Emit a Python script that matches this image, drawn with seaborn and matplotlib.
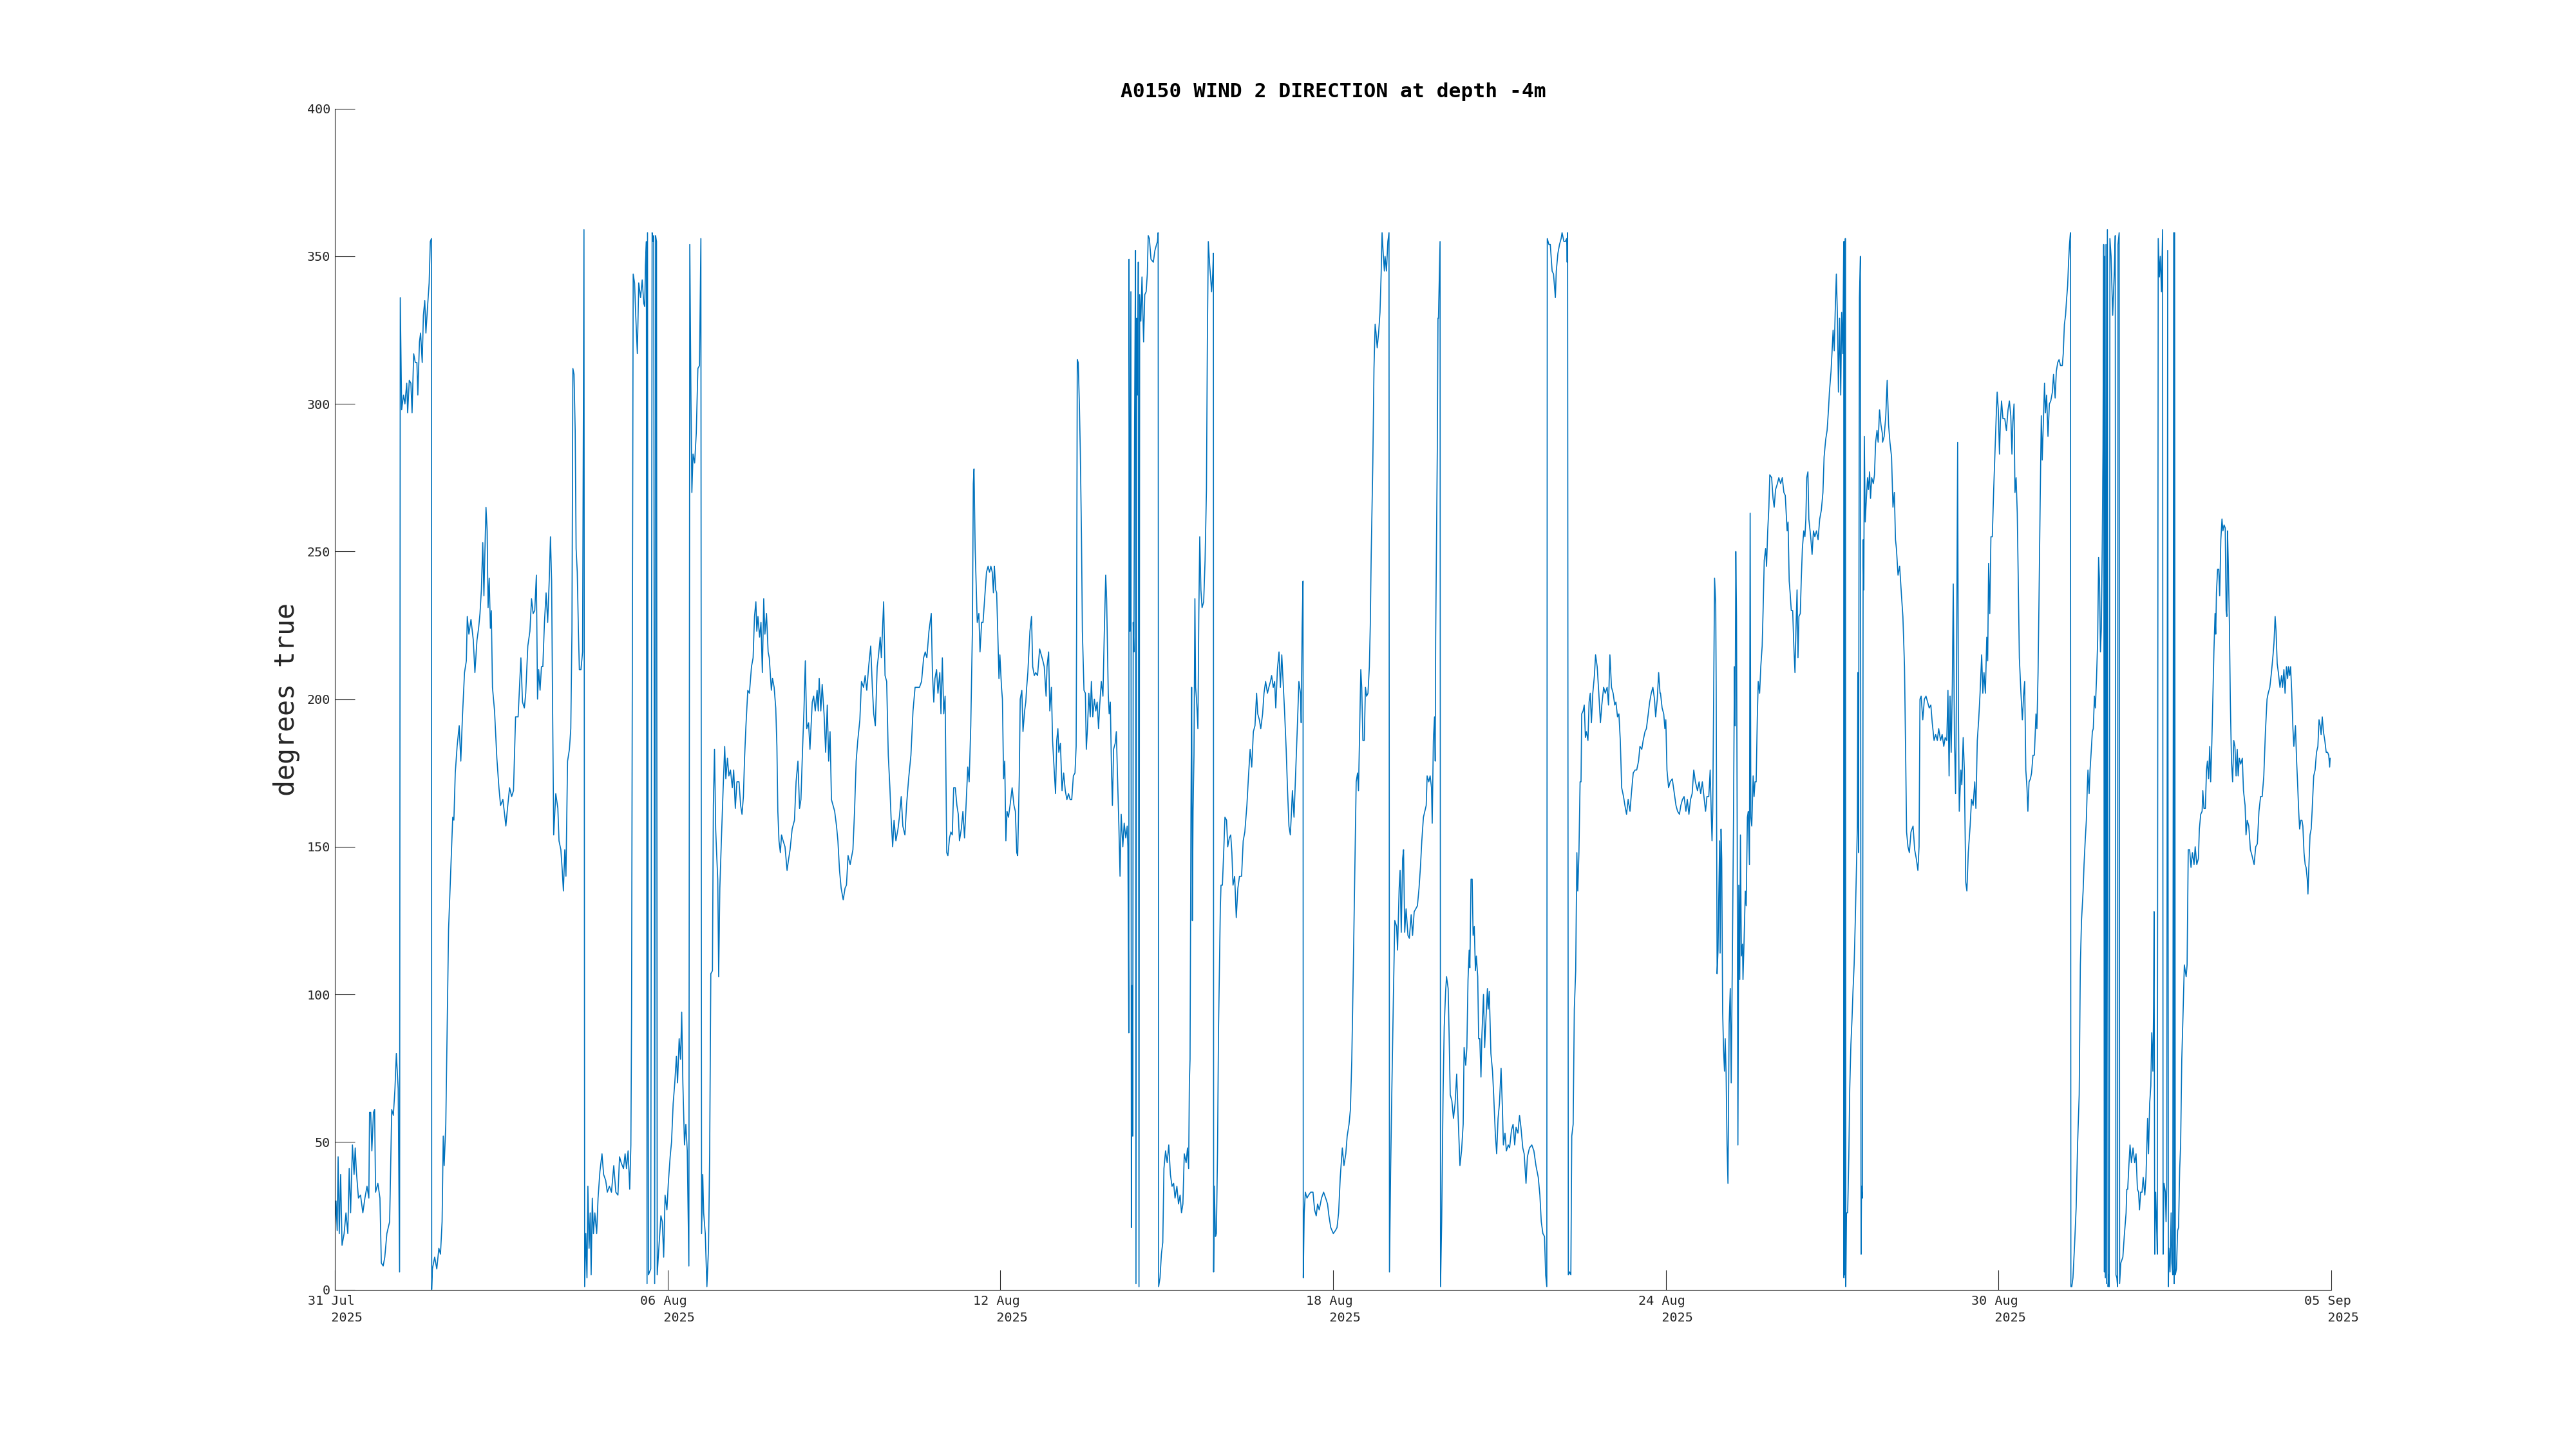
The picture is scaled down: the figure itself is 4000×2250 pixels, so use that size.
import matplotlib
matplotlib.use("Agg")
import matplotlib.pyplot as plt
import pandas as pd
import seaborn as sns

# ── data: (hours since 31 Jul 2025 00:00, degrees true) ──
seg_a = [(0, 21), (0.5, 30), (1.0, 20), (1.4, 45), (1.9, 19), (2.5, 39), (3.1, 15), (4.0, 19),
         (4.8, 26), (5.6, 19), (6.2, 41), (6.8, 26), (7.6, 49), (8.3, 39), (8.8, 48), (9.3, 40),
         (10.2, 31), (11.1, 32), (12.1, 26), (13.0, 31), (13.9, 35), (14.7, 31), (15.0, 60),
         (15.5, 60), (16.0, 47), (16.7, 60), (17.2, 61), (17.6, 33), (18.6, 36), (19.5, 31),
         (20.1, 9), (20.9, 8), (21.6, 11), (22.5, 19), (23.7, 23), (24.6, 61), (25.3, 59),
         (26.0, 68), (26.6, 80), (27.4, 68), (28.0, 6), (28.3, 336), (28.6, 317), (28.9, 298),
         (29.7, 303), (30.3, 300), (31.1, 307), (31.5, 297), (32.2, 308), (32.9, 307), (33.4, 297),
         (34.1, 317), (34.8, 314), (35.5, 314), (35.9, 303), (36.6, 321), (37.1, 324), (37.8, 314),
         (38.3, 330), (38.9, 335), (39.4, 324), (40.2, 334), (40.8, 341), (41.3, 355), (41.8, 356),
         (41.9, 0), (42.2, 7), (43.2, 11), (44.1, 7), (45.0, 14), (45.7, 12), (46.4, 23), (46.9, 52),
         (47.3, 42), (48.0, 56), (48.4, 78), (49.2, 122), (49.9, 137), (51.0, 160), (51.5, 159),
         (52.1, 175), (52.9, 184), (53.8, 191), (54.5, 179), (55.2, 194), (56.1, 209), (56.9, 213),
         (57.3, 228), (58.0, 222), (58.9, 227), (59.9, 220), (60.6, 209), (61.5, 220), (62.2, 224),
         (62.8, 229), (63.4, 237), (64.0, 253), (64.5, 235), (64.9, 249), (65.4, 265), (65.9, 257),
         (66.3, 231), (66.8, 241), (67.3, 224), (67.7, 230), (68.2, 204), (69.1, 196), (70.1, 180),
         (71.0, 170), (71.7, 164), (72.7, 166), (73.3, 162), (74.0, 157), (74.7, 163), (75.6, 170),
         (76.5, 167), (77.3, 169), (78.2, 194), (79.3, 194), (80.5, 214), (81.2, 199), (82.0, 197),
         (82.6, 202), (83.5, 218), (84.4, 223), (85.1, 234), (85.8, 229), (86.5, 230), (87.2, 242),
         (87.7, 200), (88.2, 210), (88.8, 203), (89.4, 211), (90.0, 211), (90.7, 226), (91.4, 236),
         (92.1, 226), (92.8, 241)]

seg_b = [(93.3, 255), (93.8, 240), (94.2, 200), (94.7, 154), (95.6, 168), (96.5, 163), (97.0, 152),
         (97.8, 149), (98.4, 142), (98.9, 135), (99.5, 149), (100.0, 140), (100.7, 179), (101.5, 183),
         (102.1, 190), (102.6, 223), (103.0, 312), (103.5, 310), (104.0, 291), (104.4, 251),
         (104.9, 243), (105.4, 223), (105.8, 210), (106.5, 210), (107.2, 216), (107.5, 287),
         (107.8, 359), (108.1, 1), (108.6, 19), (109.1, 4), (109.5, 35), (110.0, 14), (110.5, 26),
         (110.9, 5), (111.4, 31), (111.9, 19), (112.5, 26), (113.3, 19), (113.9, 31), (114.7, 40),
         (115.6, 46), (116.3, 39), (117.2, 37), (117.9, 33), (118.8, 35), (119.7, 33), (120.7, 42),
         (121.6, 33), (122.5, 32), (123.2, 45), (123.9, 43), (124.9, 41), (125.6, 46), (126.2, 41),
         (126.9, 47), (127.6, 34), (128.1, 49), (128.4, 92), (129.1, 344), (129.7, 341), (130.2, 330),
         (130.9, 317), (131.5, 341), (132.3, 336), (133.0, 342), (133.7, 334), (134.1, 333),
         (134.4, 347), (134.8, 355), (135.1, 2), (135.3, 358), (135.7, 5), (136.2, 6), (136.7, 7),
         (137.3, 358), (137.7, 355), (138.0, 357), (138.4, 2), (138.8, 357), (139.2, 355), (139.5, 5),
         (140.2, 14), (141.1, 25), (141.7, 23), (142.3, 11), (142.9, 32), (143.7, 27), (144.3, 36),
         (145.1, 45), (145.7, 50), (146.4, 63), (147.1, 70), (147.8, 79), (148.3, 70), (149.0, 85),
         (149.6, 78), (150.1, 94), (150.6, 70), (151.3, 49), (151.9, 56), (152.5, 47), (153.2, 8),
         (153.6, 354), (154.1, 302), (154.5, 270), (155.0, 283), (155.7, 280), (156.4, 290),
         (157.1, 312), (157.8, 313), (158.4, 356), (158.7, 19), (159.2, 39), (159.6, 26), (160.3, 19),
         (161.0, 1), (161.7, 14), (162.2, 46), (162.7, 107), (163.4, 108), (163.8, 164), (164.3, 183),
         (164.8, 156), (165.2, 148), (165.7, 139), (166.1, 106), (166.6, 136), (167.3, 153),
         (168.0, 169), (168.7, 184), (169.2, 173), (169.9, 180), (170.5, 174), (171.2, 176),
         (172.0, 170), (172.6, 176), (173.3, 163), (174.0, 172), (174.9, 172), (175.6, 164),
         (176.2, 161), (176.8, 167), (177.3, 180), (177.9, 191), (178.7, 203), (179.4, 202),
         (180.3, 211), (181.0, 214), (181.6, 228), (182.2, 233), (182.6, 223), (183.1, 228),
         (183.8, 221), (184.4, 226), (185.0, 209), (185.6, 234), (186.1, 222), (186.8, 229),
         (187.5, 216), (188.0, 214), (188.9, 203)]

seg_c = [(189.4, 207), (190.1, 204), (190.8, 197), (191.3, 184), (191.7, 162), (192.2, 152),
         (192.8, 148), (193.3, 154), (194.0, 152), (194.8, 150), (195.7, 142), (196.4, 146),
         (197.0, 149), (197.9, 156), (198.9, 159), (199.6, 172), (200.4, 179), (201.1, 163),
         (201.7, 166), (202.4, 183), (203.0, 196), (203.6, 213), (204.2, 190), (205.0, 192),
         (205.6, 183), (206.6, 199), (207.2, 201), (207.9, 196), (208.7, 203), (209.2, 196),
         (209.6, 207), (210.3, 196), (210.9, 205), (211.7, 195), (212.4, 182), (213.1, 198),
         (213.7, 179), (214.3, 189), (214.9, 166), (215.6, 164), (216.3, 162), (217.1, 157),
         (217.7, 152), (218.4, 142), (219.1, 136), (220.0, 132), (220.8, 136), (221.4, 137),
         (222.1, 147), (223.0, 144), (224.2, 149), (224.9, 162), (225.6, 179), (226.3, 186),
         (227.2, 193), (227.9, 206), (228.8, 204), (229.5, 208), (230.2, 203), (231.0, 211),
         (231.9, 218), (232.6, 204), (233.2, 195), (233.9, 191), (234.7, 211), (235.3, 215),
         (236.0, 221), (236.5, 214), (237.5, 233), (238.1, 208), (238.8, 206), (239.5, 181),
         (240.2, 170), (240.7, 160), (241.4, 150), (242.0, 159), (242.8, 152), (243.7, 156),
         (244.3, 160), (245.1, 167), (245.8, 157), (246.7, 154), (247.4, 164), (248.3, 173),
         (249.3, 181), (250.2, 196), (251.1, 204), (252.0, 204), (253.0, 204), (253.9, 206),
         (254.8, 214), (255.5, 216), (256.2, 214), (257.1, 223), (258.1, 229), (258.6, 209),
         (259.2, 199), (259.7, 207), (260.4, 210), (261.0, 202), (261.8, 209), (262.3, 195),
         (262.9, 214), (263.5, 195), (264.1, 201), (264.8, 148), (265.3, 147), (266.0, 153),
         (266.6, 155), (267.2, 154), (267.8, 170), (268.5, 170), (269.2, 164), (269.8, 161),
         (270.3, 152), (271.1, 156), (271.8, 162), (272.5, 153), (273.1, 163), (273.9, 177),
         (274.5, 172), (275.2, 191), (275.9, 223), (276.3, 273), (276.6, 278), (277.1, 251),
         (277.6, 237), (278.0, 226), (278.7, 229), (279.2, 216), (279.9, 226), (280.5, 226),
         (281.3, 235), (282.0, 243), (282.7, 245), (283.3, 243), (283.9, 245), (284.5, 243),
         (285.0, 236), (285.4, 245)]

seg_d = [(285.5, 244), (286.0, 237), (286.4, 236), (286.9, 222), (287.4, 207), (287.8, 215),
         (288.5, 204), (288.9, 200), (289.4, 173), (289.9, 179), (290.4, 152), (290.9, 162),
         (291.5, 160), (292.2, 164), (293.1, 170), (293.9, 164), (294.5, 162), (295.1, 148),
         (295.5, 147), (296.2, 174), (296.6, 200), (297.3, 203), (297.8, 189), (298.5, 196),
         (299.0, 199), (299.4, 204), (299.9, 209), (300.8, 223), (301.5, 228), (302.0, 211),
         (302.7, 208), (303.3, 209), (304.1, 208), (305.0, 217), (305.7, 215), (306.4, 213),
         (307.0, 211), (307.8, 201), (308.2, 211), (308.9, 216), (309.4, 196), (310.1, 204),
         (310.6, 186), (311.3, 176), (311.9, 168), (312.4, 186), (312.9, 190), (313.3, 182),
         (314.0, 185), (314.7, 169), (315.4, 175), (316.1, 169), (316.8, 166), (317.5, 168),
         (318.2, 166), (318.9, 166), (319.6, 174), (320.3, 175), (320.8, 184), (321.0, 223),
         (321.3, 315), (321.7, 314), (322.2, 300), (322.6, 284), (323.1, 256), (323.5, 223),
         (324.2, 203), (324.8, 202), (325.2, 183), (325.7, 190), (326.3, 202), (326.9, 194),
         (327.4, 206), (328.0, 194), (328.7, 200), (329.3, 196), (329.9, 199), (330.5, 190),
         (331.0, 198), (331.7, 206), (332.4, 201), (333.0, 223), (333.6, 242), (334.0, 234),
         (334.7, 202), (335.1, 195), (335.6, 199), (336.1, 176), (336.5, 164), (337.0, 183),
         (337.7, 185), (338.2, 189), (338.7, 174), (339.3, 157), (339.8, 140), (340.3, 161),
         (341.0, 150), (341.6, 158), (342.3, 153), (342.9, 157), (343.2, 150), (343.6, 87),
         (343.7, 349), (344.1, 223), (344.5, 338), (344.7, 21), (345.0, 103), (345.3, 52),
         (345.5, 226), (345.8, 216), (346.1, 294), (346.5, 352), (346.7, 2), (347.0, 329),
         (347.4, 303), (347.7, 348), (348.0, 1), (348.3, 337), (348.8, 328), (349.3, 343),
         (350.0, 321), (350.5, 337), (351.1, 338), (351.6, 344), (352.0, 357), (352.5, 356),
         (353.2, 349), (354.2, 348), (354.9, 352), (355.6, 354), (356.0, 355), (356.3, 358),
         (356.5, 1), (357.1, 4), (357.7, 12), (358.3, 16), (358.8, 41), (359.5, 47), (360.2, 43),
         (360.9, 49), (361.6, 39), (362.3, 35), (363.0, 36), (363.6, 31), (364.4, 35), (365.1, 29),
         (365.8, 32), (366.4, 26), (367.0, 29), (367.6, 46), (368.4, 43), (369.0, 48), (369.5, 41),
         (369.8, 70), (370.1, 78), (370.5, 162), (370.8, 204), (371.1, 125), (371.4, 162),
         (371.8, 181), (372.2, 234), (372.5, 204), (372.9, 200), (373.5, 190), (373.9, 229),
         (374.3, 255), (374.8, 237), (375.3, 231), (376.0, 233), (376.6, 247), (377.2, 271),
         (377.6, 322), (378.0, 355), (378.6, 347), (379.0, 343), (379.4, 338), (379.9, 344),
         (380.2, 351), (380.3, 6), (380.6, 35), (381.1, 18)]

seg_e = [(381.5, 19), (382.0, 47), (382.4, 87), (383.2, 129), (383.5, 137), (384.1, 137),
         (384.7, 149), (385.2, 160), (385.9, 159), (386.4, 150), (387.1, 153), (387.7, 154),
         (388.2, 148), (388.7, 137), (389.4, 140), (390.1, 126), (390.8, 136), (391.5, 140),
         (392.4, 140), (393.1, 152), (393.8, 155), (394.7, 164), (395.4, 174), (396.1, 183),
         (396.8, 177), (397.5, 189), (398.2, 191), (398.9, 202), (399.4, 195), (400.1, 193),
         (400.7, 190), (401.5, 195), (402.1, 202), (402.8, 206), (403.6, 202), (404.2, 204),
         (404.9, 206), (405.4, 208), (406.1, 204), (406.7, 206), (407.2, 197), (407.9, 210),
         (408.6, 216), (409.2, 204), (409.8, 215), (410.5, 204), (411.0, 196), (411.7, 183),
         (412.3, 169), (412.9, 157), (413.5, 154), (414.0, 162), (414.4, 169), (415.1, 160),
         (415.8, 175), (416.6, 192), (417.2, 206), (417.9, 202), (418.2, 192), (418.6, 224),
         (419.0, 240), (419.1, 4), (419.5, 26), (420.0, 33), (420.7, 31), (421.4, 32), (422.3, 33),
         (423.3, 33), (424.0, 27), (424.7, 25), (425.3, 29), (426.0, 27), (427.0, 31), (427.9, 33),
         (428.8, 31), (429.6, 29), (430.2, 25), (431.0, 21), (432.1, 19), (433.0, 20), (433.7, 21),
         (434.4, 26), (435.1, 38), (436.0, 48), (436.7, 42), (437.5, 46), (438.1, 52), (438.9, 56),
         (439.5, 61), (440.1, 78), (440.7, 106), (441.4, 141), (442.0, 172), (442.6, 175),
         (443.0, 169), (443.5, 189), (444.0, 210), (444.4, 204), (444.9, 186), (445.5, 186),
         (446.0, 204), (446.5, 201), (447.1, 202), (447.7, 211), (448.1, 225), (448.5, 249),
         (449.2, 280), (449.7, 312), (450.2, 327), (450.6, 324), (451.1, 319), (451.7, 324),
         (452.3, 331), (452.8, 344), (453.2, 358), (453.7, 351), (454.2, 345), (454.5, 350),
         (455.1, 345), (455.7, 355), (456.2, 358), (456.4, 6), (456.9, 40), (457.4, 66), (458.1, 99),
         (458.7, 125), (459.5, 123), (459.9, 115), (460.6, 136), (461.0, 142), (461.5, 121),
         (462.1, 146), (462.5, 149), (463.0, 121), (463.6, 129), (464.4, 120), (465.0, 119),
         (465.8, 127), (466.4, 120), (467.1, 128), (467.8, 129), (468.5, 130), (469.2, 136),
         (469.8, 143), (470.4, 152), (471.1, 160), (471.7, 162), (472.3, 164), (472.7, 174),
         (473.4, 172), (474.0, 174), (474.6, 170), (474.9, 158), (475.4, 186), (475.9, 194),
         (476.2, 179), (476.4, 221), (476.8, 257), (477.1, 284), (477.4, 329)]

seg_f = [(477.6, 329), (478.3, 355), (478.5, 1), (479.0, 23), (479.6, 66), (480.1, 89), (480.7, 101),
         (481.1, 106), (481.8, 102), (482.2, 87), (482.7, 66), (483.4, 64), (484.1, 58), (484.8, 63),
         (485.5, 73), (486.1, 59), (486.9, 42), (487.6, 47), (488.3, 56), (488.7, 82), (489.4, 76),
         (489.9, 82), (490.4, 105), (490.9, 115), (491.2, 109), (491.7, 139), (492.2, 139),
         (492.6, 120), (493.1, 123), (493.6, 108), (494.0, 113), (494.6, 106), (495.0, 85),
         (495.5, 85), (496.0, 72), (496.4, 86), (497.1, 100), (497.6, 82), (498.0, 89), (498.8, 102),
         (499.1, 95), (499.6, 101), (500.3, 80), (501.0, 74), (501.5, 66), (502.2, 53), (502.8, 46),
         (503.4, 58), (504.0, 63), (504.7, 75), (505.3, 61), (505.7, 49), (506.4, 53), (507.0, 47),
         (507.8, 49), (508.4, 48), (509.2, 54), (509.9, 56), (510.6, 49), (511.2, 55), (512.0, 53),
         (512.7, 59), (513.3, 55), (514.1, 48), (514.7, 46), (515.5, 36), (516.1, 45), (517.0, 48),
         (518.0, 49), (518.9, 47), (519.8, 42), (520.8, 38), (521.5, 32), (522.1, 23), (522.8, 19),
         (523.5, 18), (524.0, 5), (524.5, 1), (524.7, 356), (525.4, 354), (526.0, 354), (526.8, 345),
         (527.4, 344), (528.2, 336), (528.6, 345), (529.3, 351), (530.0, 354), (530.7, 356),
         (531.1, 358), (531.9, 355), (532.5, 355), (533.1, 356), (533.3, 348), (533.5, 358),
         (533.8, 5), (534.4, 6), (534.9, 5), (535.3, 52), (535.9, 56), (536.4, 95), (537.0, 108),
         (537.5, 148), (537.9, 135), (538.4, 148), (538.9, 172), (539.3, 172), (539.6, 195),
         (540.2, 196), (540.7, 198), (541.2, 187), (541.6, 189), (542.3, 186), (542.8, 199),
         (543.3, 202), (543.8, 192), (544.4, 202), (545.1, 208), (545.6, 215), (546.3, 211),
         (547.0, 202), (547.7, 192), (548.3, 198), (549.1, 204), (549.8, 202), (550.6, 204),
         (551.2, 198), (551.8, 215), (552.5, 204), (553.2, 202), (553.9, 198), (554.4, 199),
         (555.1, 194), (555.7, 195), (556.3, 186), (556.9, 170), (557.7, 167), (558.3, 164),
         (559.0, 161), (559.7, 166), (560.5, 162), (561.1, 168), (561.9, 175), (562.7, 176),
         (563.4, 176), (564.2, 179), (564.8, 184), (565.6, 183), (566.2, 186), (567.0, 189),
         (567.6, 190), (568.4, 195), (569.0, 199), (569.7, 202), (570.4, 204), (571.1, 200),
         (571.6, 194), (572.3, 200), (572.9, 209), (573.5, 202)]

seg_g = [(573.7, 202), (574.4, 197), (575.1, 195), (575.6, 190), (576.0, 193), (576.5, 176),
         (577.2, 170), (577.9, 172), (578.8, 173), (579.5, 169), (580.4, 164), (581.1, 162),
         (581.9, 161), (582.5, 164), (583.2, 166), (583.9, 167), (584.7, 162), (585.3, 166),
         (586.0, 161), (586.7, 166), (587.4, 168), (588.1, 176), (588.8, 172), (589.7, 169),
         (590.4, 172), (591.1, 168), (591.8, 172), (592.5, 167), (593.2, 162), (593.8, 167),
         (594.6, 167), (595.2, 176), (595.7, 160), (596.0, 152), (596.3, 162), (596.7, 200),
         (597.1, 241), (597.6, 232), (597.8, 204), (598.2, 107), (598.6, 115), (598.9, 132),
         (599.3, 152), (599.5, 114), (599.9, 156), (600.2, 146), (600.6, 94), (601.0, 81),
         (601.4, 74), (601.7, 85), (602.1, 73), (602.5, 49), (602.9, 36), (603.4, 90), (603.9, 102),
         (604.3, 70), (604.8, 112), (605.3, 160), (605.7, 211), (606.0, 191), (606.3, 250),
         (606.6, 228), (606.9, 153), (607.2, 49), (607.6, 137), (608.0, 105), (608.3, 154),
         (608.7, 113), (609.2, 117), (609.4, 105), (609.9, 119), (610.4, 135), (610.8, 130),
         (611.3, 160), (611.7, 162), (612.2, 144), (612.5, 263), (612.8, 160), (613.2, 157),
         (613.8, 174), (614.2, 167), (614.6, 172), (615.1, 172), (615.6, 194), (616.0, 206),
         (616.6, 202), (617.1, 211), (617.7, 218), (618.1, 230), (618.6, 247), (619.2, 251),
         (619.6, 245), (620.1, 257), (620.6, 265), (621.0, 276), (621.8, 275), (622.4, 268),
         (622.9, 265), (623.5, 271), (624.3, 273), (624.9, 275), (625.7, 273), (626.4, 275),
         (627.1, 270), (627.7, 269), (628.5, 257), (628.9, 260), (629.4, 240), (629.8, 236),
         (630.3, 230), (630.9, 230), (631.4, 218), (631.9, 209), (632.3, 223), (632.8, 237),
         (633.2, 214), (633.6, 228), (634.2, 229), (634.6, 240), (635.1, 251), (635.7, 257),
         (636.2, 255), (636.6, 261), (637.0, 275), (637.5, 277), (637.9, 261), (638.7, 255),
         (639.3, 249), (639.9, 257), (640.5, 255), (641.2, 257), (641.9, 254), (642.6, 261),
         (643.3, 264), (644.0, 270), (644.5, 282), (645.2, 288), (645.8, 291), (646.4, 298),
         (646.8, 304), (647.5, 311), (647.9, 317), (648.4, 325), (648.9, 318), (649.3, 331),
         (649.8, 344), (650.3, 329), (650.7, 304), (651.2, 329), (651.7, 303), (652.1, 331),
         (652.6, 317), (653.0, 355), (653.1, 4), (653.3, 355), (653.5, 5), (653.7, 356), (653.9, 1),
         (654.2, 26), (654.7, 26), (655.2, 45), (655.6, 68), (656.1, 83), (656.6, 92), (657.0, 101),
         (657.5, 110), (658.0, 125), (658.4, 139), (658.9, 157), (659.1, 209), (659.4, 148),
         (659.8, 336), (660.2, 350), (660.5, 12), (660.7, 35), (661.1, 31), (661.4, 254),
         (661.7, 237), (661.9, 289), (662.3, 260), (662.8, 268), (663.3, 275), (663.7, 271),
         (664.2, 277), (664.6, 268), (665.1, 275), (665.8, 273), (666.3, 276), (666.8, 287),
         (667.4, 291), (667.9, 287), (668.5, 298), (669.1, 293), (669.7, 290)]

seg_h = [(669.8, 287), (670.5, 289), (671.2, 296), (671.8, 308), (672.4, 293), (673.0, 287),
         (673.7, 282), (674.3, 265), (674.9, 270), (675.4, 254), (675.8, 251), (676.5, 242),
         (677.2, 245), (678.0, 235), (678.6, 228), (679.3, 211), (679.8, 181), (680.2, 155),
         (680.8, 150), (681.4, 148), (682.1, 155), (683.0, 157), (683.7, 149), (684.4, 146),
         (685.1, 142), (685.6, 150), (686.0, 200), (686.5, 201), (687.2, 193), (687.9, 200),
         (688.6, 201), (689.3, 199), (690.0, 197), (690.7, 198), (691.3, 192), (692.1, 186),
         (692.8, 188), (693.5, 186), (694.1, 190), (694.9, 186), (695.6, 188), (696.3, 184),
         (696.9, 187), (697.6, 186), (698.1, 203), (698.6, 174), (699.0, 201), (699.5, 182),
         (700.0, 205), (700.4, 239), (700.9, 188), (701.4, 168), (701.8, 205), (702.3, 287),
         (702.6, 200), (703.0, 162), (703.7, 176), (704.1, 171), (704.7, 187), (705.2, 176),
         (705.8, 138), (706.3, 135), (706.9, 148), (707.7, 157), (708.3, 166), (709.0, 164),
         (709.7, 172), (710.2, 163), (710.8, 186), (711.4, 193), (712.0, 202), (712.7, 215),
         (713.2, 202), (713.7, 209), (714.3, 202), (714.9, 221), (715.3, 213), (715.7, 246),
         (716.2, 229), (716.7, 255), (717.3, 255), (717.9, 271), (718.5, 285), (719.0, 296),
         (719.4, 304), (719.9, 298), (720.4, 283), (720.8, 294), (721.3, 301), (721.9, 295),
         (722.7, 295), (723.4, 291), (724.1, 298), (724.7, 301), (725.3, 296), (725.8, 283),
         (726.2, 294), (726.7, 300), (727.1, 270), (727.6, 275), (728.1, 263), (728.5, 242),
         (729.0, 214), (729.7, 202), (730.3, 193), (730.9, 202), (731.3, 206), (731.8, 176),
         (732.3, 170), (732.7, 162), (733.2, 172), (733.8, 173), (734.3, 175), (734.9, 181),
         (735.5, 181), (736.2, 195), (736.6, 190), (737.1, 209), (737.5, 233), (738.0, 266),
         (738.5, 296), (738.9, 281), (739.4, 294), (739.9, 307), (740.3, 297), (740.8, 303),
         (741.4, 289), (742.0, 300), (742.6, 301), (743.3, 304), (743.8, 310), (744.5, 302),
         (745.0, 311), (745.6, 314), (746.2, 315), (746.8, 313), (747.6, 313), (748.0, 317),
         (748.5, 327), (749.0, 330), (749.4, 335), (749.9, 340), (750.3, 348), (750.7, 354),
         (751.1, 358), (751.3, 1), (751.7, 1), (752.2, 4), (752.9, 15), (753.6, 28), (754.2, 49),
         (754.9, 66), (755.4, 110), (755.9, 125), (756.6, 135), (757.0, 144), (757.5, 152),
         (758.0, 159), (758.4, 170), (758.7, 176), (759.2, 168), (759.6, 176), (760.0, 181),
         (760.6, 189), (761.0, 190), (761.5, 201), (761.9, 197), (762.4, 207), (762.9, 220),
         (763.3, 248), (763.7, 240), (764.1, 216), (764.5, 224), (764.9, 254), (765.2, 285),
         (765.5, 354), (765.8, 6)]

seg_i = [(765.9, 350), (766.2, 4), (766.5, 354), (766.7, 2), (767.1, 359), (767.4, 1), (767.7, 5),
         (767.9, 1), (768.2, 356), (768.7, 350), (769.4, 330), (770.1, 345), (770.5, 357),
         (770.8, 5), (771.2, 4), (771.5, 1), (771.7, 354), (772.2, 358), (772.4, 2), (772.9, 9),
         (773.8, 11), (774.4, 18), (775.2, 26), (775.5, 34), (775.9, 34), (776.4, 42), (776.9, 49),
         (777.5, 43), (778.2, 48), (778.9, 43), (779.5, 46), (780.1, 34), (780.6, 33), (781.0, 27),
         (781.5, 33), (782.1, 33), (782.6, 38), (783.3, 32), (783.8, 38), (784.5, 58), (784.9, 46),
         (785.4, 63), (785.9, 69), (786.3, 87), (786.8, 74), (787.1, 96), (787.3, 128), (787.6, 12),
         (788.0, 33), (788.5, 19), (788.7, 12), (789.1, 356), (789.6, 343), (790.0, 350),
         (790.5, 338), (791.0, 359), (791.2, 12), (791.6, 36), (792.2, 33), (792.5, 23), (792.8, 35),
         (793.2, 352), (793.5, 1), (793.7, 14), (794.2, 6), (794.7, 26), (795.0, 9), (795.4, 5),
         (795.8, 358), (796.0, 2), (796.2, 358), (796.5, 5), (797.0, 7), (797.5, 20), (797.9, 21),
         (798.4, 41), (798.8, 49), (799.3, 78), (799.8, 92), (800.4, 110), (801.2, 106),
         (801.6, 110), (802.1, 149), (802.7, 149), (803.3, 143), (803.9, 148), (804.6, 144),
         (805.1, 150), (805.8, 144), (806.5, 146), (806.9, 156), (807.5, 161), (808.1, 162),
         (808.4, 169), (808.9, 163), (809.5, 163), (810.0, 176), (810.4, 179), (810.9, 173),
         (811.4, 184), (811.8, 172), (812.3, 185), (812.8, 202), (813.2, 216), (813.7, 229),
         (814.0, 222), (814.3, 236), (814.8, 244), (815.3, 244), (815.7, 235), (816.2, 254),
         (816.7, 261), (817.1, 257), (817.6, 259), (818.1, 258), (818.5, 230), (818.8, 228),
         (819.1, 257), (819.4, 247), (819.9, 226), (820.3, 200), (820.8, 179), (821.3, 172),
         (821.8, 186), (822.3, 184), (822.8, 174), (823.3, 183), (823.7, 174), (824.2, 180),
         (824.8, 178), (825.5, 180), (826.0, 169), (826.7, 164), (827.1, 154), (827.6, 159),
         (828.3, 157), (829.0, 149), (829.7, 147), (830.6, 144), (831.3, 150), (832.0, 151),
         (832.7, 162), (833.4, 167), (834.1, 167), (834.8, 174), (835.5, 189), (836.2, 200),
         (836.7, 202), (837.4, 204), (838.1, 209), (838.8, 215), (839.2, 219), (839.7, 228),
         (840.1, 223), (840.6, 212), (841.1, 209), (841.8, 204), (842.5, 208), (842.9, 204),
         (843.5, 210), (844.0, 202), (844.6, 211), (845.1, 207), (845.5, 211), (846.0, 208),
         (846.4, 211), (846.9, 202), (847.4, 190), (847.8, 184), (848.5, 191), (849.0, 179),
         (849.4, 172), (849.9, 162), (850.3, 156), (850.8, 159), (851.3, 159), (851.7, 157),
         (852.2, 148), (852.7, 144), (853.1, 143), (853.6, 139), (853.9, 134), (854.2, 141),
         (854.8, 154), (855.3, 156), (855.7, 162), (856.4, 174), (857.0, 176), (857.6, 182),
         (858.2, 184), (858.7, 193), (859.2, 191), (859.6, 188), (860.1, 194), (860.6, 189),
         (861.2, 186), (861.8, 182), (862.4, 182), (862.9, 181), (863.3, 177), (863.5, 180)]

tick_dates = ["2025-07-31", "2025-08-06", "2025-08-12", "2025-08-18",
              "2025-08-24", "2025-08-30", "2025-09-05"]
tick_labels = ["31 Jul\n   2025", "06 Aug\n   2025", "12 Aug\n   2025", "18 Aug\n   2025",
               "24 Aug\n   2025", "30 Aug\n   2025", "05 Sep\n   2025"]
y_ticks = [0, 50, 100, 150, 200, 250, 300, 350, 400]

# ── table for seaborn ──
start = pd.Timestamp("2025-07-31")
segments = [seg_a, seg_b, seg_c, seg_d, seg_e, seg_f, seg_g, seg_h, seg_i]
rows = [(start + pd.Timedelta(hours=h), d) for seg in segments for h, d in seg]
df = pd.DataFrame(rows, columns=["time", "direction"])

# ── plot ──
sns.set_style("white")
plt.rcParams["font.family"] = ["DejaVu Sans Mono"]

fig = plt.figure(figsize=(40, 22.5), dpi=100)
ax = fig.add_axes([0.13, 0.11, 0.775, 0.815])

sns.lineplot(data=df, x="time", y="direction", ax=ax, color="#0072BD",
             linewidth=1.2, estimator=None, sort=False)

ax.set_xlim(start, pd.Timestamp("2025-09-05"))
ax.set_ylim(0, 400)
ax.set_yticks(y_ticks)
ax.set_xticks(pd.to_datetime(tick_dates))
ax.set_xticklabels(tick_labels, multialignment="left", linespacing=1.45)

for side in ["top", "right"]:
    ax.spines[side].set_visible(False)
for side in ["left", "bottom"]:
    ax.spines[side].set_color("#262626")
    ax.spines[side].set_linewidth(0.8)

# seaborn "white" style hides the tick marks; MATLAB-like inward ticks
ax.tick_params(axis="both", which="major", direction="in", length=22, width=0.8,
               colors="#262626", labelsize=14.5, left=True, bottom=True,
               right=False, top=False)
ax.tick_params(axis="y", pad=5)
ax.tick_params(axis="x", pad=6)

ax.set_xlabel("")
ax.set_ylabel("degrees true", fontsize=30, labelpad=8, color="#262626")
ax.set_title("A0150 WIND 2 DIRECTION at depth -4m", fontsize=22.5,
             fontweight="bold", pad=13, color="black")

fig.savefig("out.png", dpi=100)
